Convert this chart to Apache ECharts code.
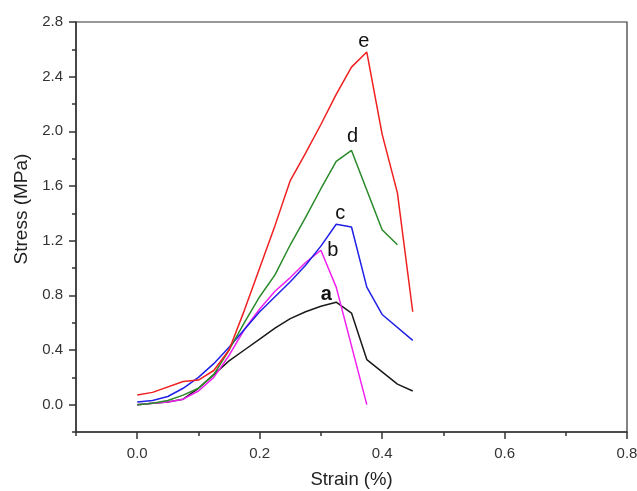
<!DOCTYPE html>
<html>
<head>
<meta charset="utf-8">
<script src="https://cdn.jsdelivr.net/npm/echarts@6/dist/echarts.min.js"></script>
<style>html,body{margin:0;padding:0;background:#fff}#c{width:637px;height:491px}</style>
</head>
<body>
<div id="c"></div>
<script>
// ---- data ----
const seriesNames = ['a', 'b', 'c', 'd', 'e'];
const curveA = [[0,0.0],[0.025,0.01],[0.05,0.02],[0.075,0.04],[0.1,0.12],[0.125,0.22],[0.15,0.32],[0.175,0.4],[0.2,0.48],[0.225,0.56],[0.25,0.63],[0.275,0.68],[0.3,0.72],[0.325,0.75],[0.35,0.67],[0.375,0.33],[0.425,0.15],[0.45,0.1]];
const curveB = [[0,0.0],[0.025,0.01],[0.05,0.02],[0.075,0.04],[0.1,0.1],[0.125,0.2],[0.15,0.36],[0.175,0.55],[0.2,0.7],[0.225,0.83],[0.25,0.93],[0.275,1.04],[0.3,1.13],[0.325,0.86],[0.375,0.0]];
const curveC = [[0,0.02],[0.025,0.03],[0.05,0.06],[0.075,0.12],[0.1,0.2],[0.125,0.3],[0.15,0.42],[0.175,0.55],[0.2,0.68],[0.225,0.79],[0.25,0.9],[0.275,1.02],[0.3,1.16],[0.325,1.32],[0.35,1.3],[0.375,0.86],[0.4,0.66],[0.45,0.47]];
const curveD = [[0,0.0],[0.025,0.01],[0.05,0.03],[0.075,0.07],[0.1,0.12],[0.125,0.22],[0.15,0.4],[0.175,0.6],[0.2,0.79],[0.225,0.95],[0.25,1.17],[0.275,1.37],[0.3,1.58],[0.325,1.78],[0.35,1.86],[0.4,1.28],[0.425,1.17]];
const curveE = [[0,0.07],[0.025,0.09],[0.075,0.17],[0.1,0.18],[0.125,0.25],[0.15,0.4],[0.175,0.69],[0.2,1.0],[0.225,1.31],[0.25,1.64],[0.275,1.84],[0.3,2.05],[0.325,2.27],[0.35,2.47],[0.375,2.58],[0.4,1.98],[0.425,1.55],[0.45,0.68]];
const xMajorTicks = [0, 0.2, 0.4, 0.6, 0.8];
const xMinorTicks = [-0.1, 0.1, 0.3, 0.5, 0.7];
const yMajorTicks = [0, 0.4, 0.8, 1.2, 1.6, 2.0, 2.4, 2.8];
const yMinorTicks = [-0.2, 0.2, 0.6, 1.0, 1.4, 1.8, 2.2, 2.6];
const xTitle = 'Strain (%)';
const yTitle = 'Stress (MPa)';

// ---- styling ----
const curves = [curveA, curveB, curveC, curveD, curveE];
const colors = ['#1a1a1a', '#f020f0', '#2020e8', '#2a8a2a', '#f02020'];
const labelOffsets = [[-10, -8], [12, 0], [4, -11], [1, -14], [-3, -11]];
const labelWeights = ['bold', 'normal', 'normal', 'normal', 'normal'];
const FONT = 'Liberation Sans, Arial, sans-serif';
const axisColor = '#333';

function peak(arr) {
  let best = arr[0];
  arr.forEach(p => { if (p[1] > best[1]) best = p; });
  return best;
}

const series = curves.map((d, i) => ({
  name: seriesNames[i],
  type: 'line',
  data: d,
  showSymbol: false,
  symbol: 'none',
  lineStyle: { color: colors[i], width: 1.5 },
  itemStyle: { color: colors[i] },
  animation: false,
  markPoint: {
    symbol: 'circle',
    symbolSize: 0,
    silent: true,
    animation: false,
    data: [{ coord: peak(d) }],
    label: {
      show: true,
      formatter: seriesNames[i],
      position: 'inside',
      align: 'center',
      verticalAlign: 'middle',
      offset: labelOffsets[i],
      color: '#111',
      fontSize: 20,
      fontWeight: labelWeights[i],
      fontFamily: FONT
    }
  }
}));

const option = {
  backgroundColor: '#fff',
  animation: false,
  grid: { left: 76, right: 10, top: 22, bottom: 59, containLabel: false, outerBoundsMode: 'none', show: true, borderColor: axisColor, borderWidth: 1.2, backgroundColor: 'transparent' },
  xAxis: [
    {
      type: 'value', min: -0.1, max: 0.8,
      name: xTitle, nameLocation: 'middle', nameGap: 38,
      nameTextStyle: { fontFamily: FONT, fontSize: 18.5, color: '#222' },
      axisLine: { show: true, onZero: false, lineStyle: { color: axisColor, width: 1.5 } },
      axisTick: { show: true, inside: false, length: 7, customValues: xMajorTicks, lineStyle: { color: axisColor, width: 1.5 } },
      axisLabel: { customValues: xMajorTicks, margin: 14, fontFamily: FONT, fontSize: 15, color: '#333', formatter: v => v.toFixed(1) },
      splitLine: { show: false }
    },
    {
      type: 'value', min: -0.1, max: 0.8, position: 'bottom',
      axisLine: { show: false, onZero: false },
      axisTick: { show: true, length: 4, customValues: xMinorTicks, lineStyle: { color: axisColor, width: 1.5 } },
      axisLabel: { show: false },
      splitLine: { show: false }
    }
  ],
  yAxis: [
    {
      type: 'value', min: -0.2, max: 2.8,
      name: yTitle, nameLocation: 'middle', nameGap: 45, nameRotate: 90,
      nameTextStyle: { fontFamily: FONT, fontSize: 19, color: '#222', padding: [0, 0, 0, 36] },
      axisLine: { show: true, onZero: false, lineStyle: { color: axisColor, width: 1.5 } },
      axisTick: { show: true, inside: false, length: 7, customValues: yMajorTicks, lineStyle: { color: axisColor, width: 1.5 } },
      axisLabel: { customValues: yMajorTicks, margin: 13, fontFamily: FONT, fontSize: 15, color: '#333', formatter: v => v.toFixed(1) },
      splitLine: { show: false }
    },
    {
      type: 'value', min: -0.2, max: 2.8, position: 'left',
      axisLine: { show: false, onZero: false },
      axisTick: { show: true, length: 4, customValues: yMinorTicks, lineStyle: { color: axisColor, width: 1.5 } },
      axisLabel: { show: false },
      splitLine: { show: false }
    }
  ],
  series: series
};

const chart = echarts.init(document.getElementById('c'), null, { renderer: 'canvas' });
chart.setOption(option);
</script>
</body>
</html>
